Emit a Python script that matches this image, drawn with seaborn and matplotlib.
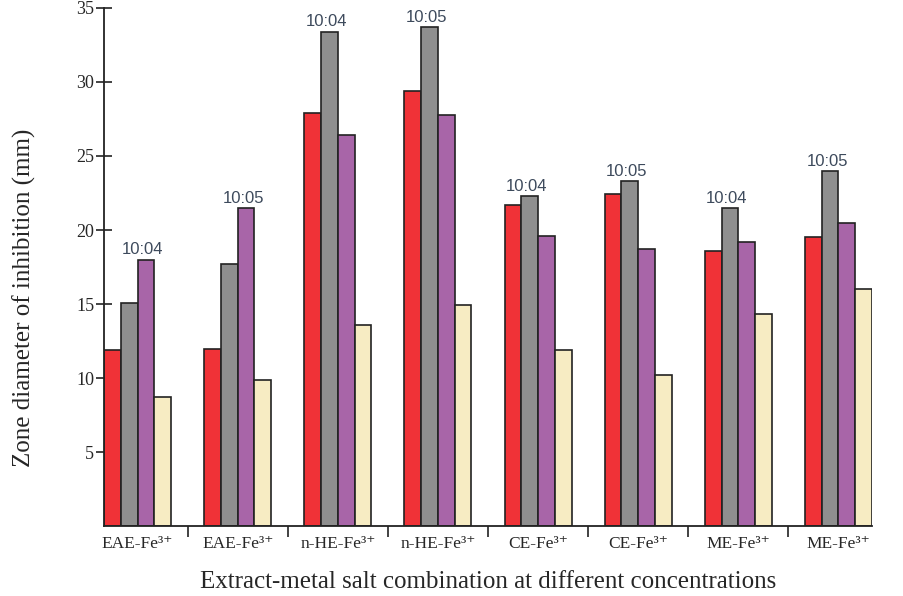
import numpy as np
import pandas as pd
import seaborn as sns
from matplotlib import pyplot as plt

# values
combos = ["EAE-Fe³⁺", "EAE-Fe³⁺", "n-HE-Fe³⁺", "n-HE-Fe³⁺",
          "CE-Fe³⁺", "CE-Fe³⁺", "ME-Fe³⁺", "ME-Fe³⁺"]
ratios = ["10:04", "10:05", "10:04", "10:05", "10:04", "10:05", "10:04", "10:05"]
series_names = ["S1", "S2", "S3", "S4"]
s1 = [11.9, 11.95, 27.9, 29.4, 21.7, 22.4, 18.6, 19.5]
s2 = [15.1, 17.7, 33.4, 33.7, 22.3, 23.3, 21.5, 24.0]
s3 = [18.0, 21.5, 26.4, 27.8, 19.6, 18.7, 19.2, 20.5]
s4 = [8.7, 9.85, 13.6, 14.9, 11.9, 10.2, 14.3, 16.0]
colors = ["#f03237", "#8f8f8f", "#a865a8", "#f7ecc3"]

group_ids = ["G%d" % (i + 1) for i in range(len(combos))]
df = pd.DataFrame({
    "group": group_ids * 4,
    "series": np.repeat(series_names, len(combos)),
    "value": s1 + s2 + s3 + s4,
})

sns.set_style("white")
plt.rcParams["font.family"] = ["Liberation Serif", "DejaVu Serif"]

fig = plt.figure(figsize=(9.04, 5.96), dpi=100)
ax = fig.add_axes([0.115, 0.1174, 0.8496, 0.8692])

sns.barplot(
    data=df, x="group", y="value", hue="series", order=group_ids,
    hue_order=series_names, palette=colors, width=0.67, gap=0,
    edgecolor="#222222", linewidth=1.2, saturation=1, legend=False, ax=ax
)

# ratio label above tallest bar of each group
tops = {}
for p in ax.patches:
    cx = p.get_x() + p.get_width() / 2
    g = int(round(cx))
    if g not in tops or p.get_height() > tops[g][1]:
        tops[g] = (cx, p.get_height())
for g, (cx, h) in tops.items():
    ax.text(cx - 0.03, h + 0.15, ratios[g], ha="center", va="bottom",
            fontsize=12, color="#3d4a5c", family=["Liberation Sans", "DejaVu Sans"])

ax.set_xlim(-0.335, 7.335)
ax.set_ylim(0, 35)
ax.set_yticks([5, 10, 15, 20, 25, 30, 35])
ax.set_xticks(np.arange(len(combos)))
ax.set_xticklabels(combos, fontsize=12.5)
ax.set_xticks(np.arange(len(combos) - 1) + 0.5, minor=True)
ax.tick_params(axis="x", which="major", bottom=True, length=0, pad=7)
ax.tick_params(axis="x", which="minor", bottom=True, length=8, width=1.2, direction="out", color="#222222")
ax.tick_params(axis="y", left=True, length=12, width=1.2, direction="inout", pad=1, labelsize=13, color="#222222")

for side in ["top", "right"]:
    ax.spines[side].set_visible(False)
for side in ["left", "bottom"]:
    ax.spines[side].set_color("#222222")
    ax.spines[side].set_linewidth(1.3)

ax.set_xlabel("Extract-metal salt combination at different concentrations", fontsize=18, labelpad=14)
ax.set_ylabel("Zone diameter of inhibition (mm)", fontsize=18)
ax.yaxis.set_label_coords(-0.088, 0.44)

fig.savefig("out.png", dpi=100)
